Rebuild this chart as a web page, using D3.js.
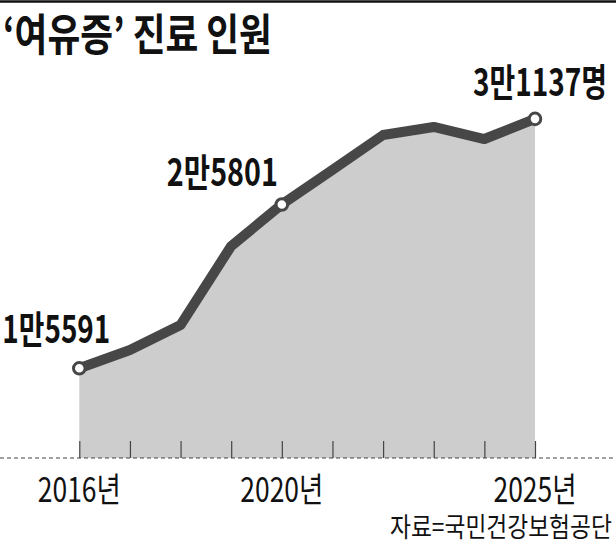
<!DOCTYPE html>
<html>
<head>
<meta charset="utf-8">
<script src="https://cdn.jsdelivr.net/npm/d3@7"></script>
<style>
  html, body { margin: 0; padding: 0; background: #fff; }
  svg { display: block; }
  text { font-family: "Noto Sans CJK KR", "Noto Sans", sans-serif; }
</style>
</head>
<body>
<svg id="chart" width="616" height="544"></svg>
<script>
const years = [2016, 2017, 2018, 2019, 2020, 2021, 2022, 2023, 2024, 2025];
const patients = [15591, 16730, 18290, 23210, 25801, 27950, 30130, 30630, 29880, 31137];
const highlighted = [2016, 2020, 2025];
const valueLabels = ["1만5591", "2만5801", "3만1137명"];
const tickLabelYears = [2016, 2020, 2025];
const tickLabels = ["2016년", "2020년", "2025년"];
const titleText = "‘여유증’ 진료 인원";
const sourceText = "자료=국민건강보험공단";

const svg = d3.select("#chart");
const W = 616, H = 544;
const baseY = 458;

const x = d3.scalePoint().domain(years).range([79.3, 535]);
const y = d3.scaleLinear().domain([10000, 32000]).range([baseY, 105]);

const data = years.map((yr, i) => ({ year: yr, value: patients[i] }));

// place a text so that it spans exactly width w starting at x (horizontal condensing)
function fitText(sel, tx, ty, w) {
  sel.attr("x", 0).attr("y", 0);
  const n = sel.node().getComputedTextLength();
  sel.attr("transform", `translate(${tx},${ty}) scale(${w / n},1)`);
  return sel;
}

// top rule
svg.append("line").attr("x1", 0).attr("x2", W).attr("y1", 1.5).attr("y2", 1.5)
  .attr("stroke", "#111").attr("stroke-width", 2.5);

// title
fitText(svg.append("text")
  .attr("font-size", 44).attr("font-weight", 700).attr("fill", "#111")
  .text(titleText), 3, 51, 269);

// area
const area = d3.area().x(d => x(d.year)).y0(baseY).y1(d => y(d.value));
svg.append("path").datum(data).attr("d", area).attr("fill", "#cdcdcd");

// ticks
const axis = d3.axisBottom(x).tickSize(17).tickFormat("");
const axisG = svg.append("g").attr("transform", `translate(0,${baseY - 17})`).call(axis);
axisG.select(".domain").remove();
axisG.selectAll(".tick line").attr("stroke", "#444").attr("stroke-width", 1.2).attr("y1", 0);

// dashed baseline
svg.append("line").attr("x1", 0).attr("x2", W).attr("y1", baseY).attr("y2", baseY)
  .attr("stroke", "#444").attr("stroke-width", 1.2).attr("stroke-dasharray", "4,3");

// line
const line = d3.line().x(d => x(d.year)).y(d => y(d.value));
svg.append("path").datum(data).attr("d", line)
  .attr("fill", "none").attr("stroke", "#474747").attr("stroke-width", 10)
  .attr("stroke-linejoin", "round").attr("stroke-linecap", "round");

// highlighted points
const hp = data.filter(d => highlighted.includes(d.year));
svg.selectAll("circle.pt").data(hp).enter().append("circle")
  .attr("class", "pt")
  .attr("cx", d => x(d.year)).attr("cy", d => y(d.value))
  .attr("r", 5.8).attr("fill", "#fff").attr("stroke", "#474747").attr("stroke-width", 3);

// value labels (offsets relative to point)
const labelLayout = [
  { dx: -77, dy: -25, w: 108 },
  { dx: -115, dy: -18, w: 111 },
  { dx: -62, dy: -23, w: 134 }
];
hp.forEach((d, i) => {
  const L = labelLayout[i];
  fitText(svg.append("text")
    .attr("font-size", 38).attr("font-weight", 700).attr("fill", "#111")
    .text(valueLabels[i]), x(d.year) + L.dx, y(d.value) + L.dy, L.w);
});

// x tick labels
tickLabelYears.forEach((yr, i) => {
  const w = 83;
  fitText(svg.append("text")
    .attr("font-size", 34).attr("font-weight", 400).attr("fill", "#111")
    .text(tickLabels[i]), x(yr) - w / 2, 502, w);
});

// source
fitText(svg.append("text")
  .attr("font-size", 27).attr("font-weight", 400).attr("fill", "#111")
  .text(sourceText), 390, 537, 222);
</script>
</body>
</html>
